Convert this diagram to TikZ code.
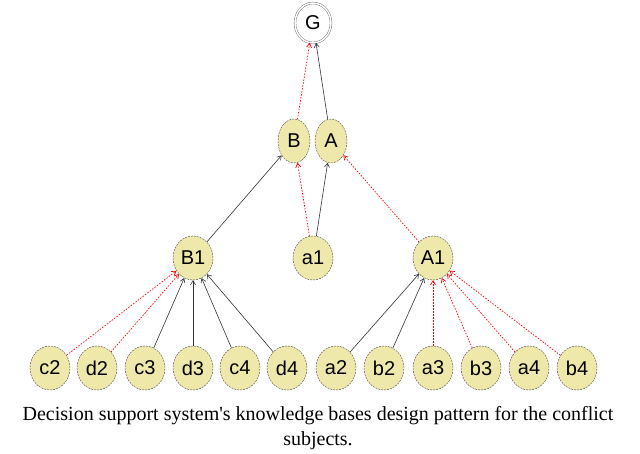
\documentclass[tikz,border=0pt]{standalone}
\usepackage{fontspec}
\setmainfont{Liberation Serif}
\newfontfamily\arialf{Liberation Sans}
\usetikzlibrary{arrows.meta,shapes.geometric}
\begin{document}
\begin{tikzpicture}[x=1pt,y=-1pt,
 nd/.style={ellipse,draw=black!70,dash pattern=on 2pt off 1pt,fill={rgb,255:red,238;green,232;blue,170},minimum width=40,minimum height=44,inner sep=0pt,font=\arialf\fontsize{20}{20}\selectfont},
 bk/.style={draw=black!80,-{Straight Barb[length=4pt,width=5pt]},line width=0.6pt},
 rd/.style={draw=red,dash pattern=on 1.5pt off 1.5pt,-{Straight Barb[length=4pt,width=5pt]},line width=0.7pt}]
\useasboundingbox (0,0) rectangle (640,454);
\clip (0,0) rectangle (640,454);
\node[ellipse,draw=black!60,double,double distance=1.5pt,minimum width=36,minimum height=40,inner sep=0pt,font=\arialf\fontsize{20}{20}\selectfont] (G) at (313,23) {G};
\node[nd,minimum width=32] (B) at (294,141) {B};
\node[nd,minimum width=32] (A) at (331,141) {A};
\node[nd] (B1) at (193,258) {B1};
\node[nd] (a1) at (313,258) {a1};
\node[nd] (A1) at (433,258) {A1};
\foreach \n/\x in {c2/50,d2/97,c3/145,d3/193,c4/240,d4/287,a2/336,b2/384,a3/433,b3/481,a4/529,b4/577}
  \node[nd] (\n) at (\x,368) {\n};
\draw[rd] (B) -- (G);
\draw[bk] (A) -- (G);
\draw[bk] (B1) -- (B);
\draw[rd] (a1) -- (B);
\draw[bk] (a1) -- (A);
\draw[rd] (A1) -- (A);
\foreach \n in {c2,d2} \draw[rd] (\n) -- (B1);
\foreach \n in {c3,d3,c4,d4} \draw[bk] (\n) -- (B1);
\foreach \n in {a2,b2} \draw[bk] (\n) -- (A1);
\foreach \n in {a3,b3,a4,b4} \draw[rd] (\n) -- (A1);
\node[font=\fontsize{20}{20}\selectfont] (cap1) at (318,416) {Decision support system\textquotesingle s knowledge bases design pattern for the conflict};
\node[font=\fontsize{20}{20}\selectfont] (cap2) at (318,441) {subjects.};
\end{tikzpicture}
\end{document}
